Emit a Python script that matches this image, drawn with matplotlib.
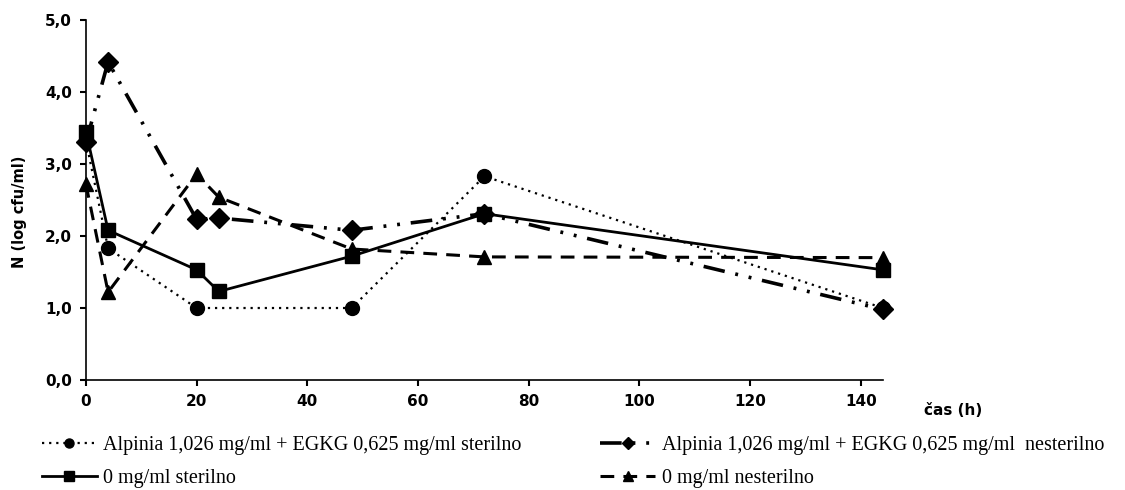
import matplotlib
matplotlib.use("Agg")
import matplotlib.pyplot as plt
from matplotlib.ticker import FuncFormatter

# Data
time_circle = [0, 4, 20, 48, 72, 144]
alp_sterilno = [3.32, 1.83, 1.0, 1.0, 2.83, 1.0]

time_diamond = [0, 4, 20, 24, 48, 72, 144]
alp_nesterilno = [3.30, 4.42, 2.23, 2.25, 2.08, 2.31, 0.98]

time_square = [0, 4, 20, 24, 48, 72, 144]
ctrl_sterilno = [3.45, 2.08, 1.53, 1.23, 1.72, 2.31, 1.53]

time_triangle = [0, 4, 20, 24, 48, 72, 144]
ctrl_nesterilno = [2.72, 1.22, 2.86, 2.54, 1.82, 1.71, 1.70]

labels = ["Alpinia 1,026 mg/ml + EGKG 0,625 mg/ml sterilno",
          "Alpinia 1,026 mg/ml + EGKG 0,625 mg/ml  nesterilno",
          "0 mg/ml sterilno",
          "0 mg/ml nesterilno"]

x_ticks = [0, 20, 40, 60, 80, 100, 120, 140]
y_ticks = [0, 1, 2, 3, 4, 5]

fig = plt.figure(figsize=(11.25, 4.9), dpi=100)
ax = fig.add_axes([0.0764, 0.2245, 0.7085, 0.7345])

l1, = ax.plot(time_circle, alp_sterilno, color="black", lw=1.6,
              linestyle=(0, (1, 2.2)), marker="o", markersize=10, clip_on=False)
l2, = ax.plot(time_diamond, alp_nesterilno, color="black", lw=2.6,
              linestyle=(0, (6, 3, 0.8, 3, 0.8, 3)), marker="D", markersize=10, clip_on=False)
l3, = ax.plot(time_square, ctrl_sterilno, color="black", lw=2.0,
              linestyle="-", marker="s", markersize=10, clip_on=False)
l4, = ax.plot(time_triangle, ctrl_nesterilno, color="black", lw=2.2,
              linestyle=(0, (4.5, 3)), marker="^", markersize=10, clip_on=False)

ax.set_xlim(0, 144)
ax.set_ylim(0, 5)
ax.set_xticks(x_ticks)
ax.set_yticks(y_ticks)
ax.yaxis.set_major_formatter(FuncFormatter(lambda v, p: f"{v:.1f}".replace(".", ",")))
for s in ["top", "right"]:
    ax.spines[s].set_visible(False)
for s in ["left", "bottom"]:
    ax.spines[s].set_linewidth(1.2)
ax.tick_params(direction="out", length=4, width=1.5, labelsize=11, pad=6)
for lab in ax.get_xticklabels() + ax.get_yticklabels():
    lab.set_fontweight("bold")

fig.text(953 / 1125, 1 - 410 / 490, "čas (h)", ha="center", va="center",
         fontsize=11, fontweight="bold")
fig.text(20 / 1125, 1 - 212 / 490, "N (log cfu/ml)", ha="center", va="center",
         rotation=90, fontsize=10.5, fontweight="bold")

leg = fig.legend([l1, l3, l2, l4], [labels[0], labels[2], labels[1], labels[3]],
                 ncol=2, loc="upper left", bbox_to_anchor=(0.021, 0.148),
                 frameon=False, markerscale=0.65, handlelength=2.75,
                 columnspacing=3.9, labelspacing=0.7, handletextpad=0.3,
                 prop={"family": "Liberation Serif", "size": 14.5})

fig.savefig("out.png", dpi=100)
